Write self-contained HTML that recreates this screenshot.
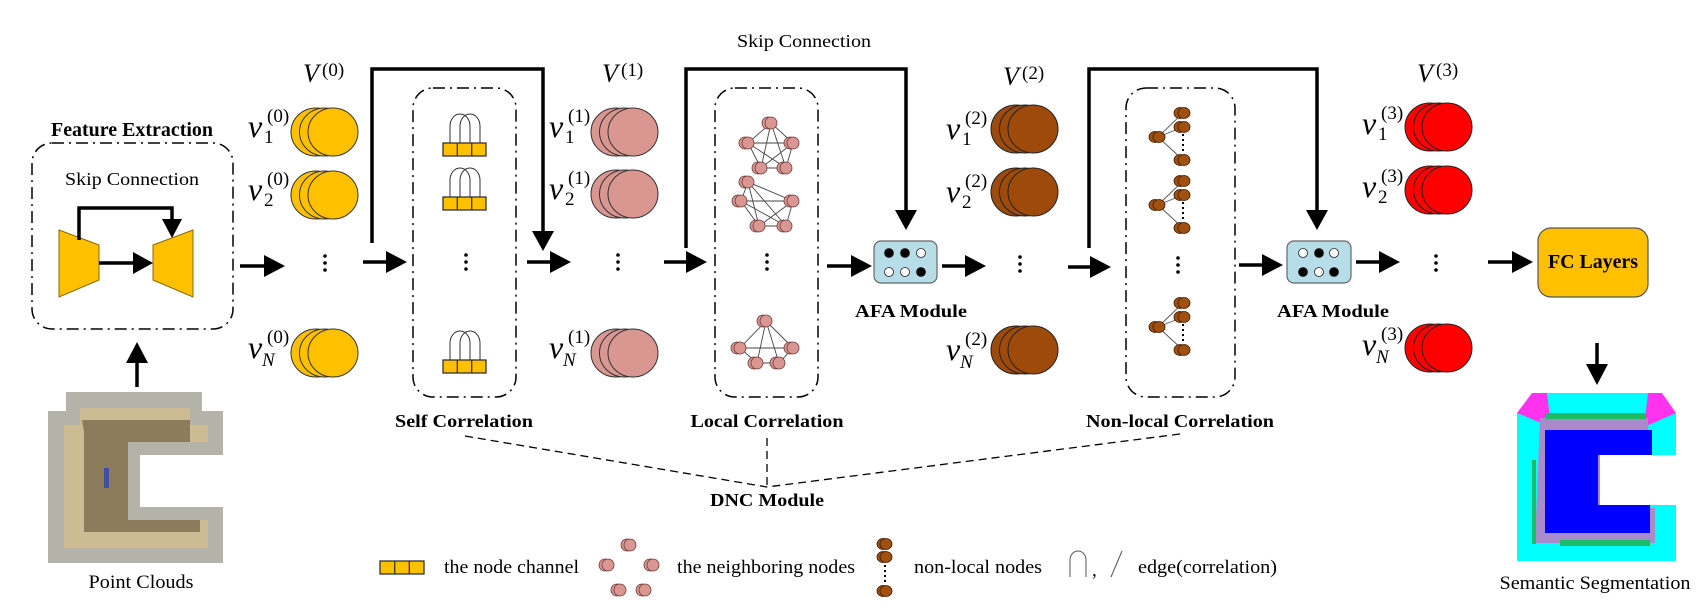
<!DOCTYPE html>
<html><head><meta charset="utf-8"><style>
html,body{margin:0;padding:0;background:#fff;}
svg{display:block;font-family:"Liberation Serif",serif;}
.b{font-weight:bold;}
.it{font-style:italic;}
</style></head><body>
<svg width="1701" height="608" viewBox="0 0 1701 608" xmlns="http://www.w3.org/2000/svg">
<defs>
<g id="pn"><circle cx="-3" cy="0" r="6"/><circle cx="0" cy="0" r="6"/></g>
</defs>

<!-- Feature extraction -->
<text x="132" y="136" text-anchor="middle" font-size="20" class="b" textLength="162" lengthAdjust="spacingAndGlyphs">Feature Extraction</text>
<rect x="32" y="143" width="201" height="186" rx="20" fill="none" stroke="#000" stroke-width="1.5" stroke-dasharray="12 5 2 5"/>
<text x="132" y="185" text-anchor="middle" font-size="18" textLength="134" lengthAdjust="spacingAndGlyphs">Skip Connection</text>
<polygon points="59,230 99,245 99,280 59,297" fill="#FFC000" stroke="#8a6a00" stroke-width="1"/>
<polygon points="153,245 193,230 193,297 153,280" fill="#FFC000" stroke="#8a6a00" stroke-width="1"/>
<polyline points="79,240 79,208 172,208 172,222" fill="none" stroke="#000" stroke-width="3.5"/>
<polygon points="162,219 182,219 172,238" fill="#000"/>
<line x1="99" y1="263" x2="134" y2="263" stroke="#000" stroke-width="3.5"/>
<polygon points="133,252 153,263 133,274" fill="#000"/>

<line x1="240" y1="266" x2="266" y2="266" stroke="#000" stroke-width="3.5"/>
<polygon points="264,255 285,266 264,277" fill="#000"/>
<line x1="137" y1="387" x2="137" y2="360" stroke="#000" stroke-width="3.5"/>
<polygon points="126,363 137,342 148,363" fill="#000"/>

<!-- point cloud -->
<polygon points="66,392 202,392 202,411 223,411 223,455 140,455 140,507 223,507 223,563 48,563 48,411 66,411" fill="#b4b3aa"/>
<polygon points="80,408 190,408 190,425 208,425 208,442 128,442 128,520 208,520 208,548 64,548 64,425 80,425" fill="#cdbb93"/>
<polygon points="82,420 190,420 190,442 128,442 128,520 200,520 200,532 84,532 84,432" fill="#8d7c5c"/>
<rect x="104" y="468" width="5" height="20" fill="#4050a0"/>
<text x="141" y="588" text-anchor="middle" font-size="19" textLength="105" lengthAdjust="spacingAndGlyphs">Point Clouds</text>

<!-- V0 -->
<text x="303" y="82" font-size="26" class="it">V</text><text x="322" y="76" font-size="19">(0)</text>
<g stroke="#333" stroke-width="1" fill="#FFC000">
<ellipse cx="316" cy="132" rx="25" ry="24"/><ellipse cx="324.5" cy="132" rx="25" ry="24"/><ellipse cx="333" cy="132" rx="25" ry="24"/>
<ellipse cx="316" cy="195" rx="25" ry="24"/><ellipse cx="324.5" cy="195" rx="25" ry="24"/><ellipse cx="333" cy="195" rx="25" ry="24"/>
<ellipse cx="316" cy="353" rx="25" ry="24"/><ellipse cx="324.5" cy="353" rx="25" ry="24"/><ellipse cx="333" cy="353" rx="25" ry="24"/>
</g>
<g font-size="19">
<text x="248" y="137" font-size="32" class="it">v</text><text x="264" y="143">1</text><text x="267" y="122">(0)</text>
<text x="248" y="200" font-size="32" class="it">v</text><text x="264" y="206">2</text><text x="267" y="185">(0)</text>
<text x="248" y="358" font-size="32" class="it">v</text><text x="262" y="366" class="it">N</text><text x="267" y="343">(0)</text>
</g>
<g fill="#000"><circle cx="325" cy="256" r="1.8"/><circle cx="325" cy="263" r="1.8"/><circle cx="325" cy="270" r="1.8"/></g>

<!-- skip 1 -->
<polyline points="372,243 372,69 543,69 543,232" fill="none" stroke="#000" stroke-width="3.5"/>
<polygon points="532,231 554,231 543,251" fill="#000"/>
<line x1="363" y1="262" x2="388" y2="262" stroke="#000" stroke-width="3.5"/>
<polygon points="386,251 407,262 386,273" fill="#000"/>

<!-- self correlation -->
<rect x="413" y="88" width="103" height="309" rx="20" fill="none" stroke="#000" stroke-width="1.5" stroke-dasharray="12 5 2 5"/>
<g id="ch">
<path d="M450,143 L450,126 A10,12 0 0 1 470,126 L470,143 M460,143 L460,126 A10,12 0 0 1 480,126 L480,143" fill="none" stroke="#333" stroke-width="1"/>
<rect x="443" y="143" width="43" height="13" fill="#FFC000" stroke="#333" stroke-width="1.3"/>
<line x1="457.3" y1="143" x2="457.3" y2="156" stroke="#333" stroke-width="1.3"/><line x1="471.7" y1="143" x2="471.7" y2="156" stroke="#333" stroke-width="1.3"/>
</g>
<use href="#ch" transform="translate(0,54)"/>
<use href="#ch" transform="translate(0,217)"/>
<g fill="#000"><circle cx="466" cy="255" r="1.8"/><circle cx="466" cy="262" r="1.8"/><circle cx="466" cy="269" r="1.8"/></g>
<line x1="527" y1="262" x2="552" y2="262" stroke="#000" stroke-width="3.5"/>
<polygon points="550,251 571,262 550,273" fill="#000"/>
<text x="464" y="427" text-anchor="middle" font-size="18" class="b" textLength="138" lengthAdjust="spacingAndGlyphs">Self Correlation</text>

<!-- V1 -->
<text x="602" y="82" font-size="26" class="it">V</text><text x="621" y="76" font-size="19">(1)</text>
<g stroke="#333" stroke-width="1" fill="#DA9690">
<ellipse cx="616" cy="132" rx="25" ry="24"/><ellipse cx="624.5" cy="132" rx="25" ry="24"/><ellipse cx="633" cy="132" rx="25" ry="24"/>
<ellipse cx="616" cy="194" rx="25" ry="24"/><ellipse cx="624.5" cy="194" rx="25" ry="24"/><ellipse cx="633" cy="194" rx="25" ry="24"/>
<ellipse cx="616" cy="353" rx="25" ry="24"/><ellipse cx="624.5" cy="353" rx="25" ry="24"/><ellipse cx="633" cy="353" rx="25" ry="24"/>
</g>
<g font-size="19">
<text x="549" y="137" font-size="32" class="it">v</text><text x="565" y="143">1</text><text x="568" y="122">(1)</text>
<text x="549" y="199" font-size="32" class="it">v</text><text x="565" y="205">2</text><text x="568" y="184">(1)</text>
<text x="549" y="358" font-size="32" class="it">v</text><text x="563" y="366" class="it">N</text><text x="568" y="343">(1)</text>
</g>
<g fill="#000"><circle cx="618" cy="255" r="1.8"/><circle cx="618" cy="262" r="1.8"/><circle cx="618" cy="269" r="1.8"/></g>

<!-- skip 2 -->
<text x="804" y="47" text-anchor="middle" font-size="18" textLength="134" lengthAdjust="spacingAndGlyphs">Skip Connection</text>
<polyline points="686,248 686,69 906,69 906,212" fill="none" stroke="#000" stroke-width="3.5"/>
<polygon points="895,210 917,210 906,230" fill="#000"/>
<line x1="664" y1="262" x2="688" y2="262" stroke="#000" stroke-width="3.5"/>
<polygon points="686,251 707,262 686,273" fill="#000"/>

<!-- local correlation -->
<rect x="715" y="88" width="103" height="309" rx="20" fill="none" stroke="#000" stroke-width="1.5" stroke-dasharray="12 5 2 5"/>
<g stroke="#444" stroke-width="0.9" fill="none">
<path d="M771,123 L748,143 L761,168 L786,168 L793,143 Z M771,123 L761,168 M771,123 L786,168 M748,143 L793,143 M748,143 L786,168 M793,143 L761,168"/>
<path d="M748,182 L741,201 L759,226 L786,226 L793,201 Z M748,182 L759,226 M748,182 L786,226 M741,201 L793,201 M741,201 L786,226 M793,201 L759,226"/>
<path d="M766,321 L740,348 L757,363 L779,363 L793,348 Z M766,321 L757,363 M766,321 L779,363 M740,348 L793,348 M766,321 L793,348"/>
</g>
<g fill="#DA9690" stroke="#6a3a3a" stroke-width="0.8">
<use href="#pn" x="771" y="123"/><use href="#pn" x="748" y="143"/><use href="#pn" x="793" y="143"/><use href="#pn" x="761" y="168"/><use href="#pn" x="786" y="168"/>
<use href="#pn" x="748" y="182"/><use href="#pn" x="741" y="201"/><use href="#pn" x="793" y="201"/><use href="#pn" x="759" y="226"/><use href="#pn" x="786" y="226"/>
<use href="#pn" x="766" y="321"/><use href="#pn" x="740" y="348"/><use href="#pn" x="793" y="348"/><use href="#pn" x="757" y="363"/><use href="#pn" x="779" y="363"/>
</g>
<g fill="#000"><circle cx="767" cy="255" r="1.8"/><circle cx="767" cy="262" r="1.8"/><circle cx="767" cy="269" r="1.8"/></g>
<text x="767" y="427" text-anchor="middle" font-size="18" class="b" textLength="153" lengthAdjust="spacingAndGlyphs">Local Correlation</text>
<line x1="827" y1="266" x2="852" y2="266" stroke="#000" stroke-width="3.5"/>
<polygon points="851,255 872,266 851,277" fill="#000"/>

<!-- AFA 1 -->
<rect x="874" y="241" width="63" height="42" rx="7" fill="#B7DEE8" stroke="#666" stroke-width="1.2"/>
<g stroke="#222" stroke-width="0.8">
<circle cx="889" cy="253" r="4.5" fill="#000"/><circle cx="905" cy="253" r="4.5" fill="#000"/><circle cx="921" cy="253" r="4.5" fill="#fff"/>
<circle cx="889" cy="272" r="4.5" fill="#fff"/><circle cx="905" cy="272" r="4.5" fill="#fff"/><circle cx="921" cy="272" r="4.5" fill="#000"/>
</g>
<text x="911" y="317" text-anchor="middle" font-size="18" class="b" textLength="112" lengthAdjust="spacingAndGlyphs">AFA Module</text>
<line x1="942" y1="266" x2="967" y2="266" stroke="#000" stroke-width="3.5"/>
<polygon points="965,255 986,266 965,277" fill="#000"/>

<!-- V2 -->
<text x="1003" y="85" font-size="26" class="it">V</text><text x="1022" y="79" font-size="19">(2)</text>
<g stroke="#222" stroke-width="1" fill="#9E4A0B">
<ellipse cx="1016" cy="129" rx="25" ry="24"/><ellipse cx="1024.5" cy="129" rx="25" ry="24"/><ellipse cx="1033" cy="129" rx="25" ry="24"/>
<ellipse cx="1016" cy="192" rx="25" ry="24"/><ellipse cx="1024.5" cy="192" rx="25" ry="24"/><ellipse cx="1033" cy="192" rx="25" ry="24"/>
<ellipse cx="1016" cy="350" rx="25" ry="24"/><ellipse cx="1024.5" cy="350" rx="25" ry="24"/><ellipse cx="1033" cy="350" rx="25" ry="24"/>
</g>
<g font-size="19">
<text x="946" y="139" font-size="32" class="it">v</text><text x="962" y="145">1</text><text x="965" y="124">(2)</text>
<text x="946" y="202" font-size="32" class="it">v</text><text x="962" y="208">2</text><text x="965" y="187">(2)</text>
<text x="946" y="360" font-size="32" class="it">v</text><text x="960" y="368" class="it">N</text><text x="965" y="345">(2)</text>
</g>
<g fill="#000"><circle cx="1020" cy="257" r="1.8"/><circle cx="1020" cy="264" r="1.8"/><circle cx="1020" cy="271" r="1.8"/></g>

<!-- skip 3 -->
<polyline points="1089,248 1089,69 1317,69 1317,212" fill="none" stroke="#000" stroke-width="3.5"/>
<polygon points="1306,210 1328,210 1317,230" fill="#000"/>
<line x1="1068" y1="267" x2="1092" y2="267" stroke="#000" stroke-width="3.5"/>
<polygon points="1090,256 1111,267 1090,278" fill="#000"/>

<!-- non-local -->
<rect x="1126" y="88" width="109" height="309" rx="20" fill="none" stroke="#000" stroke-width="1.5" stroke-dasharray="12 5 2 5"/>
<g id="tr">
<path d="M1158,137 L1183,113 M1158,137 L1183,127 M1158,137 L1183,160" stroke="#555" stroke-width="0.9" fill="none"/>
<line x1="1183" y1="134" x2="1183" y2="154" stroke="#000" stroke-width="2" stroke-dasharray="2 3"/>
<g fill="#A0500F" stroke="#3a1a00" stroke-width="0.8">
<ellipse cx="1155" cy="137" rx="6" ry="5.5"/><ellipse cx="1159" cy="137" rx="6" ry="5.5"/>
<ellipse cx="1180" cy="113" rx="6" ry="5.5"/><ellipse cx="1184" cy="113" rx="6" ry="5.5"/>
<ellipse cx="1180" cy="127" rx="6" ry="5.5"/><ellipse cx="1184" cy="127" rx="6" ry="5.5"/>
<ellipse cx="1180" cy="160" rx="6" ry="5.5"/><ellipse cx="1184" cy="160" rx="6" ry="5.5"/>
</g>
</g>
<use href="#tr" transform="translate(0,68)"/>
<use href="#tr" transform="translate(0,190)"/>
<g fill="#000"><circle cx="1178" cy="258" r="1.8"/><circle cx="1178" cy="265" r="1.8"/><circle cx="1178" cy="272" r="1.8"/></g>
<text x="1180" y="427" text-anchor="middle" font-size="18" class="b" textLength="188" lengthAdjust="spacingAndGlyphs">Non-local Correlation</text>
<line x1="1239" y1="265" x2="1263" y2="265" stroke="#000" stroke-width="3.5"/>
<polygon points="1262,254 1283,265 1262,276" fill="#000"/>

<!-- AFA 2 -->
<rect x="1287" y="241" width="64" height="42" rx="7" fill="#B7DEE8" stroke="#666" stroke-width="1.2"/>
<g stroke="#222" stroke-width="0.8">
<circle cx="1303" cy="253" r="4.5" fill="#fff"/><circle cx="1319" cy="253" r="4.5" fill="#000"/><circle cx="1334" cy="253" r="4.5" fill="#fff"/>
<circle cx="1303" cy="272" r="4.5" fill="#000"/><circle cx="1319" cy="272" r="4.5" fill="#fff"/><circle cx="1334" cy="272" r="4.5" fill="#000"/>
</g>
<text x="1333" y="317" text-anchor="middle" font-size="18" class="b" textLength="112" lengthAdjust="spacingAndGlyphs">AFA Module</text>
<line x1="1356" y1="262" x2="1380" y2="262" stroke="#000" stroke-width="3.5"/>
<polygon points="1379,251 1400,262 1379,273" fill="#000"/>

<!-- V3 -->
<text x="1417" y="82" font-size="26" class="it">V</text><text x="1436" y="76" font-size="19">(3)</text>
<g stroke="#222" stroke-width="1" fill="#FF0000">
<ellipse cx="1430" cy="127" rx="25" ry="24"/><ellipse cx="1438.5" cy="127" rx="25" ry="24"/><ellipse cx="1447" cy="127" rx="25" ry="24"/>
<ellipse cx="1430" cy="190" rx="25" ry="24"/><ellipse cx="1438.5" cy="190" rx="25" ry="24"/><ellipse cx="1447" cy="190" rx="25" ry="24"/>
<ellipse cx="1430" cy="348" rx="25" ry="24"/><ellipse cx="1438.5" cy="348" rx="25" ry="24"/><ellipse cx="1447" cy="348" rx="25" ry="24"/>
</g>
<g font-size="19">
<text x="1362" y="134" font-size="32" class="it">v</text><text x="1378" y="140">1</text><text x="1381" y="119">(3)</text>
<text x="1362" y="197" font-size="32" class="it">v</text><text x="1378" y="203">2</text><text x="1381" y="182">(3)</text>
<text x="1362" y="355" font-size="32" class="it">v</text><text x="1376" y="363" class="it">N</text><text x="1381" y="340">(3)</text>
</g>
<g fill="#000"><circle cx="1436" cy="256" r="1.8"/><circle cx="1436" cy="263" r="1.8"/><circle cx="1436" cy="270" r="1.8"/></g>
<line x1="1488" y1="262" x2="1513" y2="262" stroke="#000" stroke-width="3.5"/>
<polygon points="1512,251 1533,262 1512,273" fill="#000"/>

<!-- FC -->
<rect x="1538" y="228" width="110" height="69" rx="13" fill="#FFC000" stroke="#555" stroke-width="1.2"/>
<text x="1593" y="268" text-anchor="middle" font-size="20" class="b" textLength="90" lengthAdjust="spacingAndGlyphs">FC Layers</text>
<line x1="1597" y1="343" x2="1597" y2="366" stroke="#000" stroke-width="3.5"/>
<polygon points="1586,364 1608,364 1597,385" fill="#000"/>

<!-- semantic segmentation -->
<polygon points="1532,393 1662,393 1662,413 1676,413 1676,455 1598,455 1598,505 1676,505 1676,561 1517,561 1517,413 1532,413" fill="#00FFFF"/>
<polygon points="1532,393 1547,393 1551,427 1517,413" fill="#FF33EE"/>
<polygon points="1662,393 1648,393 1644,427 1676,413" fill="#FF33EE"/>
<polygon points="1540,418 1648,418 1648,455 1600,455 1600,508 1655,508 1655,543 1535,543" fill="#A98ACB"/>
<polygon points="1545,430 1652,430 1652,455 1598,455 1598,505 1650,505 1650,533 1545,533" fill="#0000FF"/>
<rect x="1546" y="413" width="100" height="6" fill="#1DBA6A"/>
<rect x="1532" y="460" width="4" height="84" fill="#1DBA6A"/>
<rect x="1560" y="540" width="90" height="6" fill="#1DBA6A"/>
<text x="1595" y="589" text-anchor="middle" font-size="19" textLength="191" lengthAdjust="spacingAndGlyphs">Semantic Segmentation</text>

<!-- DNC lines -->
<g stroke="#000" stroke-width="1.3" stroke-dasharray="8 5" fill="none">
<line x1="465" y1="436" x2="767" y2="487"/>
<line x1="767" y1="438" x2="767" y2="487"/>
<line x1="1180" y1="434" x2="767" y2="487"/>
</g>
<text x="767" y="506" text-anchor="middle" font-size="18" class="b" textLength="114" lengthAdjust="spacingAndGlyphs">DNC Module</text>

<!-- legend -->
<rect x="380" y="561" width="44" height="13" fill="#FFC000" stroke="#333" stroke-width="1.3"/>
<line x1="394.7" y1="561" x2="394.7" y2="574" stroke="#333" stroke-width="1.3"/><line x1="409.3" y1="561" x2="409.3" y2="574" stroke="#333" stroke-width="1.3"/>
<text x="444" y="573" font-size="19" textLength="135" lengthAdjust="spacingAndGlyphs">the node channel</text>
<g fill="#DA9690" stroke="#6a3a3a" stroke-width="0.8">
<use href="#pn" x="630" y="545"/><use href="#pn" x="608" y="565"/><use href="#pn" x="653" y="565"/><use href="#pn" x="620" y="590"/><use href="#pn" x="645" y="590"/>
</g>
<text x="677" y="573" font-size="19" textLength="178" lengthAdjust="spacingAndGlyphs">the neighboring nodes</text>
<line x1="885" y1="565" x2="885" y2="585" stroke="#000" stroke-width="2" stroke-dasharray="2 3"/>
<g fill="#A0500F" stroke="#3a1a00" stroke-width="0.8">
<ellipse cx="883" cy="544" rx="6" ry="5.5"/><ellipse cx="886" cy="544" rx="6" ry="5.5"/>
<ellipse cx="883" cy="557" rx="6" ry="5.5"/><ellipse cx="886" cy="557" rx="6" ry="5.5"/>
<ellipse cx="883" cy="591" rx="6" ry="5.5"/><ellipse cx="886" cy="591" rx="6" ry="5.5"/>
</g>
<text x="914" y="573" font-size="19" textLength="128" lengthAdjust="spacingAndGlyphs">non-local nodes</text>
<path d="M1070,577 L1070,560 A8,9 0 0 1 1086,560 L1086,577" fill="none" stroke="#555" stroke-width="1"/>
<text x="1092" y="576" font-size="19">,</text>
<line x1="1111" y1="577" x2="1122" y2="551" stroke="#555" stroke-width="1"/>
<text x="1138" y="573" font-size="19" textLength="139" lengthAdjust="spacingAndGlyphs">edge(correlation)</text>
</svg>
</body></html>
